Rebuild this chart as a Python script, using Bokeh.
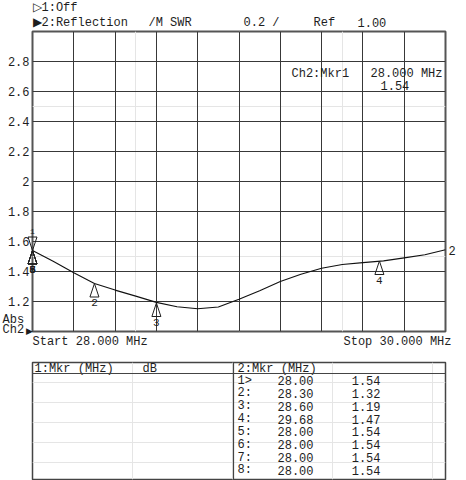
from bokeh.plotting import figure
from bokeh.models import Range1d, FixedTicker, Grid, Span
from bokeh.layouts import column
from bokeh.core.properties import value
from bokeh.embed import file_html
from bokeh.resources import INLINE

# ---- data ----
freq_mhz = [28.0, 28.1, 28.2, 28.3, 28.4, 28.5, 28.6, 28.7, 28.8, 28.9, 29.0,
            29.1, 29.2, 29.3, 29.4, 29.5, 29.6, 29.7, 29.8, 29.9, 30.0]
swr = [1.540, 1.468, 1.392, 1.320, 1.276, 1.236, 1.194, 1.165, 1.152, 1.163, 1.215,
       1.272, 1.333, 1.382, 1.422, 1.447, 1.459, 1.471, 1.491, 1.512, 1.545]

y_ticks = [1.2, 1.4, 1.6, 1.8, 2.0, 2.2, 2.4, 2.6, 2.8]
y_tick_labels = ["1.2", "1.4", "1.6", "1.8", "2", "2.2", "2.4", "2.6", "2.8"]
x_grid = [28.2, 28.4, 28.6, 28.8, 29.0, 29.2, 29.4, 29.6, 29.8]

mkr_ids = ["1", "2", "3", "4", "5", "6", "7", "8"]
mkr_tags = ["1>", "2:", "3:", "4:", "5:", "6:", "7:", "8:"]
mkr_freq = [28.00, 28.30, 28.60, 29.68, 28.00, 28.00, 28.00, 28.00]
mkr_swr = [1.54, 1.32, 1.19, 1.47, 1.54, 1.54, 1.54, 1.54]

FONT = "Liberation Mono"
INK = "#1e1e1e"

# ---- chart ----
X0, X1, Y0, Y1 = 28.0, 30.0, 1.0, 3.0
FL, FT = 32, 31          # frame left / top in page pixels
FW, FH = 413, 300
p = figure(width=466, height=358, output_backend="svg", toolbar_location=None,
           x_range=Range1d(X0, X1), y_range=Range1d(Y0, Y1),
           x_axis_location=None, y_axis_location=None,
           min_border_left=FL, min_border_right=466 - FL - FW,
           min_border_top=FT, min_border_bottom=358 - FT - FH)
p.background_fill_color = "white"
p.border_fill_color = "white"
p.outline_line_color = "#555555"
p.outline_line_width = 2

p.add_layout(Grid(dimension=0, ticker=FixedTicker(ticks=x_grid), grid_line_color="#383838", grid_line_width=1))
p.add_layout(Grid(dimension=1, ticker=FixedTicker(ticks=y_ticks), grid_line_color="#383838", grid_line_width=1))

p.line(freq_mhz, swr, line_color="#111111", line_width=1.1, line_join="round")

# y tick labels
p.text(x=[X0] * len(y_ticks), y=y_ticks, text=y_tick_labels, x_offset=-3,
       text_align="right", text_baseline="middle", text_font=value(FONT),
       text_font_size="12px", text_color=INK, level="overlay")

# marker triangles
dxp = (X1 - X0) / FW
dyp = (Y1 - Y0) / FH
hw, th = 4.5, 13.5
xs, ys = [], []
for i, (f, v) in enumerate(zip(mkr_freq, mkr_swr)):
    if i == 0:
        xs.append([f, f - hw * dxp, f + hw * dxp])
        ys.append([v, v + th * dyp, v + th * dyp])
    else:
        xs.append([f, f - hw * dxp, f + hw * dxp])
        ys.append([v, v - th * dyp, v - th * dyp])
p.patches(xs, ys, fill_color=None, line_color=INK, line_width=1, level="overlay")

# marker numbers
p.text(x=mkr_freq[1:], y=mkr_swr[1:], text=mkr_ids[1:], y_offset=19,
       text_align="center", text_baseline="middle", text_font=value(FONT),
       text_font_size="11px", text_color=INK, level="overlay")
p.text(x=mkr_freq[:1], y=mkr_swr[:1], text=mkr_ids[:1], y_offset=-19,
       text_align="center", text_baseline="middle", text_font=value(FONT),
       text_font_size="8px", text_color=INK, level="overlay")
# trace end label
p.text(x=freq_mhz[-1:], y=swr[-1:], text=["2"], x_offset=3, y_offset=1,
       text_align="left", text_baseline="middle", text_font=value(FONT),
       text_font_size="12px", text_color=INK, level="overlay")


def labA(text, px, py, align="left", size="12px"):
    # anchored at frame top-left, offset in pixels
    p.text(x=[X0], y=[Y1], text=[text], x_offset=px - FL, y_offset=py - FT,
           text_align=align, text_baseline="middle", text_font=value(FONT),
           text_font_size=size, text_color=INK, level="overlay")


labA("\u25b71:Off", 32, 7)
labA("\u25b62:Reflection", 32, 22)
labA("/M SWR", 148, 22)
labA("0.2 /", 243, 22)
labA("Ref", 313, 22)
labA("1.00", 357, 22)
labA("Ch2:Mkr1", 291, 73)
labA("28.000 MHz", 370, 73)
labA("1.54", 380, 85)
labA("Abs", 2, 319)
labA("Ch2", 2, 329)
labA("\u25b6", 25, 331, size="9px")
labA("Start 28.000 MHz", 32, 341)
labA("Stop 30.000 MHz", 451, 341, align="right")

# ---- marker table ----
TT, TB = 362, 479
TH = TB - TT
t = figure(width=466, height=480 - 358, output_backend="svg", toolbar_location=None,
           x_range=Range1d(0, FW), y_range=Range1d(TH, 0),
           x_axis_location=None, y_axis_location=None,
           min_border_left=FL, min_border_right=466 - FL - FW,
           min_border_top=TT - 358, min_border_bottom=480 - TB)
t.background_fill_color = "white"
t.border_fill_color = "white"
t.outline_line_color = "#444444"
t.outline_line_width = 1.5
t.add_layout(Span(location=201, dimension="height", line_color="#444444", line_width=1.2))
t.add_layout(Span(location=11, dimension="width", line_color="#444444", line_width=1.2))


def tt(x, y, text, align="left"):
    t.text(x=x, y=y, text=text, text_align=align, text_baseline="middle",
           text_font=value(FONT), text_font_size="12px", text_color=INK)


tt([2], [6], ["1:Mkr (MHz)"])
tt([110], [6], ["dB"])
tt([205], [6], ["2:Mkr (MHz)"])
rows_y = [18 + 12.85 * i for i in range(len(mkr_tags))]
tt([205] * len(mkr_tags), rows_y, mkr_tags)
tt([281] * len(mkr_tags), rows_y, ["%.2f" % f for f in mkr_freq], align="right")
tt([348] * len(mkr_tags), rows_y, ["%.2f" % v for v in mkr_swr], align="right")

layout = column(p, t, spacing=0)
open("out.html", "w").write(file_html(layout, INLINE))
